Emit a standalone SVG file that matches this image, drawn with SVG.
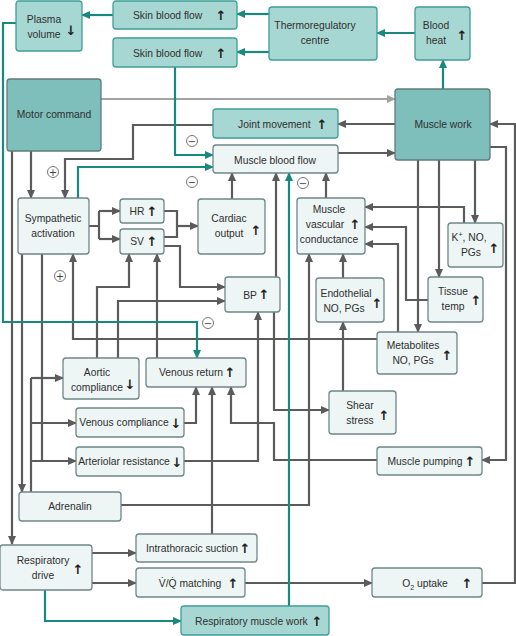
<svg xmlns="http://www.w3.org/2000/svg" width="516" height="636" viewBox="0 0 516 636">
<defs>
<style>
.n rect{fill:#edf5f5;stroke:#6f8686;stroke-width:1.3}
.t rect{fill:#a7d7d2;stroke:#3e9f97;stroke-width:1.3}
.d rect{fill:#7ebebb;stroke:#5e7c7a;stroke-width:1.3}
text{font-family:"Liberation Sans",Arial,sans-serif;font-size:10.3px;fill:#2f2f2f}
.m{text-anchor:middle}
text.a{font-family:"DejaVu Sans",sans-serif;font-weight:bold;font-size:13px;text-anchor:middle;fill:#222}
.g path{fill:none;stroke:#5b5b5b;stroke-width:2.2}
.g path.k{marker-end:url(#ag)}
.c path{fill:none;stroke:#17897f;stroke-width:2.2;marker-end:url(#at)}
.l path{fill:none;stroke:#a3a3a3;stroke-width:2.2;marker-end:url(#al)}
.s circle{fill:#fff;stroke:#777;stroke-width:1}
.s text{font-family:"DejaVu Sans",sans-serif;font-size:10px;text-anchor:middle;fill:#444}
</style>
<marker id="ag" markerUnits="userSpaceOnUse" markerWidth="9" markerHeight="8" refX="8" refY="4" orient="auto"><path d="M0,0 L9,4 L0,8 z" fill="#5b5b5b"/></marker>
<marker id="at" markerUnits="userSpaceOnUse" markerWidth="9" markerHeight="8" refX="8" refY="4" orient="auto"><path d="M0,0 L9,4 L0,8 z" fill="#17897f"/></marker>
<marker id="al" markerUnits="userSpaceOnUse" markerWidth="9" markerHeight="8" refX="8" refY="4" orient="auto"><path d="M0,0 L9,4 L0,8 z" fill="#a3a3a3"/></marker>
</defs>
<rect width="516" height="636" fill="#fff"/>

<g id="connectors">
<g class="l"><path d="M101,99 H395"/></g>
<g class="g">
<path class="k" d="M395,124 H338"/>
<path class="k" d="M338,153 H395"/>
<path class="k" d="M31,151 V198"/>
<path class="k" d="M12,151 V544"/>
<path class="k" d="M213,125 H133 V159 H65 V198"/>
<path d="M89,226 H99 M99,211 V239"/>
<path class="k" d="M99,211 H120"/>
<path class="k" d="M99,239 H120"/>
<path d="M164,211 H177 V237 H164"/>
<path class="k" d="M177,226 H198"/>
<path class="k" d="M164,246 H180 V287 H225"/>
<path class="k" d="M97,358 V287 H129 V254"/>
<path class="k" d="M118,358 V301 H225"/>
<path class="k" d="M157,358 V254"/>
<path class="k" d="M232,199 V173"/>
<path class="k" d="M276,277 V173"/>
<path class="k" d="M274,312 V410 H329"/>
<path class="k" d="M326,198 V173"/>
<path class="k" d="M475,160 V223"/>
<path class="k" d="M439,160 V277"/>
<path class="k" d="M418,160 V332"/>
<path class="k" d="M464,223 V207 H365"/>
<path class="k" d="M428,300 H406 V227 H365"/>
<path class="k" d="M398,332 V244 H365"/>
<path class="k" d="M343,278 V254"/>
<path class="k" d="M343,391 V322"/>
<path class="k" d="M121,505 H309 V254"/>
<path class="k" d="M377,339 H73 V254"/>
<path class="k" d="M22,254 V492"/>
<path d="M42,254 V461"/>
<path d="M31,492 V378"/>
<path class="k" d="M31,378 H63"/>
<path class="k" d="M31,423 H76"/>
<path class="k" d="M31,461 H76"/>
<path class="k" d="M184,423 H196 V387"/>
<path class="k" d="M212,534 V387"/>
<path class="k" d="M377,460 H274 V423 H231 V387"/>
<path class="k" d="M184,461 H258 V312"/>
<path class="k" d="M490,147 H506 V460 H482"/>
<path class="k" d="M482,583 H515 V124 H490"/>
<path class="k" d="M92,553 H136"/>
<path class="k" d="M92,583 H136"/>
<path class="k" d="M245,583 H372"/>
</g>
<g class="c">
<path d="M113,15 H82"/>
<path d="M269,14 H237"/>
<path d="M269,52 H237"/>
<path d="M415,33 H377"/>
<path d="M443,89 V60"/>
<path d="M16,23 H3 V322 H197 V358"/>
<path d="M175,67 V155 H213"/>
<path d="M78,198 V167 H213"/>
<path d="M45,590 V621 H181"/>
<path d="M289,606 V173"/>
</g>
<g class="s">
<circle cx="53" cy="172" r="5.5"/><text x="53" y="175.5">+</text>
<circle cx="60" cy="276" r="5.5"/><text x="60" y="279.5">+</text>
<circle cx="192" cy="141" r="5.5"/><text x="192" y="144.5">−</text>
<circle cx="192" cy="182" r="5.5"/><text x="192" y="185.5">−</text>
<circle cx="303" cy="183" r="5.5"/><text x="303" y="186.5">−</text>
<circle cx="208" cy="323" r="5.5"/><text x="208" y="326.5">−</text>
</g>
</g>

<g id="plasma-volume" class="t"><rect x="16" y="1" width="66" height="50" rx="3"/><text class="m" x="44" y="23">Plasma</text><text class="m" x="44" y="38">volume</text><text class="a" x="71" y="35">↓</text></g>
<g id="skin-blood-flow-1" class="t"><rect x="113" y="1" width="124" height="28" rx="3"/><text x="133" y="19">Skin blood flow</text><text class="a" x="221" y="20">↑</text></g>
<g id="skin-blood-flow-2" class="t"><rect x="113" y="38" width="124" height="29" rx="3"/><text x="133" y="57">Skin blood flow</text><text class="a" x="221" y="58">↑</text></g>
<g id="thermoregulatory-centre" class="t"><rect x="269" y="7" width="108" height="53" rx="3"/><text class="m" x="315" y="29">Thermoregulatory</text><text class="m" x="315" y="44">centre</text></g>
<g id="blood-heat" class="t"><rect x="415" y="7" width="55" height="53" rx="3"/><text class="m" x="436" y="29">Blood</text><text class="m" x="436" y="44">heat</text><text class="a" x="462" y="40">↑</text></g>
<g id="motor-command" class="d"><rect x="7" y="79" width="94" height="72" rx="3"/><text class="m" x="54" y="118">Motor command</text></g>
<g id="muscle-work" class="d"><rect x="395" y="89" width="95" height="71" rx="3"/><text class="m" x="443" y="128">Muscle work</text></g>
<g id="joint-movement" class="t"><rect x="213" y="109" width="125" height="29" rx="3"/><text x="238" y="128">Joint movement</text><text class="a" x="322" y="129">↑</text></g>
<g id="muscle-blood-flow" class="n"><rect x="213" y="145" width="125" height="28" rx="3"/><text class="m" x="275" y="164">Muscle blood flow</text></g>
<g id="sympathetic-activation" class="n"><rect x="18" y="198" width="71" height="56" rx="3"/><text class="m" x="53" y="222">Sympathetic</text><text class="m" x="53" y="237">activation</text></g>
<g id="hr" class="n"><rect x="120" y="199" width="44" height="24" rx="3"/><text class="m" x="137" y="215">HR</text><text class="a" x="152" y="216">↑</text></g>
<g id="sv" class="n"><rect x="120" y="229" width="44" height="25" rx="3"/><text class="m" x="137" y="245">SV</text><text class="a" x="152" y="246">↑</text></g>
<g id="cardiac-output" class="n"><rect x="198" y="199" width="67" height="55" rx="3"/><text class="m" x="229" y="222">Cardiac</text><text class="m" x="229" y="237">output</text><text class="a" x="256" y="235">↑</text></g>
<g id="muscle-vascular-conductance" class="n"><rect x="297" y="198" width="68" height="56" rx="3"/><text class="m" x="329" y="213">Muscle</text><text class="m" x="325" y="228">vascular</text><text class="m" x="329" y="243">conductance</text><text class="a" x="355" y="229">↑</text></g>
<g id="k-no-pgs" class="n"><rect x="448" y="223" width="55" height="44" rx="3"/><text class="m" x="469" y="241">K<tspan font-size="7" dy="-4">+</tspan><tspan dy="4">, NO,</tspan></text><text class="m" x="471" y="256">PGs</text><text class="a" x="494" y="253">↑</text></g>
<g id="tissue-temp" class="n"><rect x="428" y="277" width="55" height="45" rx="3"/><text class="m" x="453" y="295">Tissue</text><text class="m" x="453" y="310">temp</text><text class="a" x="476" y="305">↑</text></g>
<g id="endothelial-no-pgs" class="n"><rect x="316" y="278" width="68" height="44" rx="3"/><text class="m" x="346" y="297">Endothelial</text><text class="m" x="344" y="312">NO, PGs</text><text class="a" x="377" y="308">↑</text></g>
<g id="bp" class="n"><rect x="225" y="277" width="55" height="35" rx="3"/><text class="m" x="250" y="299">BP</text><text class="a" x="264" y="299">↑</text></g>
<g id="metabolites" class="n"><rect x="377" y="332" width="80" height="42" rx="3"/><text class="m" x="413" y="349">Metabolites</text><text class="m" x="413" y="364">NO, PGs</text><text class="a" x="447" y="360">↑</text></g>
<g id="aortic-compliance" class="n"><rect x="63" y="358" width="76" height="41" rx="3"/><text class="m" x="97" y="376">Aortic</text><text class="m" x="97" y="391">compliance</text><text class="a" x="130" y="389">↓</text></g>
<g id="venous-return" class="n"><rect x="146" y="358" width="100" height="29" rx="3"/><text class="m" x="191" y="376">Venous return</text><text class="a" x="230" y="377">↑</text></g>
<g id="venous-compliance" class="n"><rect x="76" y="408" width="108" height="29" rx="3"/><text class="m" x="124" y="426">Venous compliance</text><text class="a" x="176" y="428">↓</text></g>
<g id="arteriolar-resistance" class="n"><rect x="76" y="447" width="108" height="29" rx="3"/><text class="m" x="124" y="465">Arteriolar resistance</text><text class="a" x="177" y="467">↓</text></g>
<g id="shear-stress" class="n"><rect x="329" y="391" width="67" height="43" rx="3"/><text class="m" x="360" y="409">Shear</text><text class="m" x="360" y="424">stress</text><text class="a" x="384" y="420">↑</text></g>
<g id="muscle-pumping" class="n"><rect x="377" y="447" width="105" height="28" rx="3"/><text class="m" x="425" y="465">Muscle pumping</text><text class="a" x="470" y="466">↑</text></g>
<g id="adrenalin" class="n"><rect x="19" y="492" width="102" height="29" rx="3"/><text class="m" x="70" y="510">Adrenalin</text></g>
<g id="respiratory-drive" class="n"><rect x="0" y="545" width="92" height="45" rx="3"/><text class="m" x="43" y="564">Respiratory</text><text class="m" x="43" y="579">drive</text><text class="a" x="78" y="574">↑</text></g>
<g id="intrathoracic-suction" class="n"><rect x="136" y="534" width="121" height="28" rx="3"/><text class="m" x="192" y="552">Intrathoracic suction</text><text class="a" x="245" y="553">↑</text></g>
<g id="vq-matching" class="n"><rect x="136" y="568" width="109" height="29" rx="3"/><text class="m" x="190" y="587">V̇/Q̇ matching</text><text class="a" x="233" y="588">↑</text></g>
<g id="respiratory-muscle-work" class="t"><rect x="181" y="606" width="148" height="29" rx="3"/><text x="195" y="625">Respiratory muscle work</text><text class="a" x="317" y="626">↑</text></g>
<g id="o2-uptake" class="n"><rect x="372" y="568" width="110" height="29" rx="3"/><text class="m" x="425" y="587">O<tspan font-size="7" dy="3">2</tspan><tspan dy="-3"> uptake</tspan></text><text class="a" x="467" y="588">↑</text></g>
</svg>
